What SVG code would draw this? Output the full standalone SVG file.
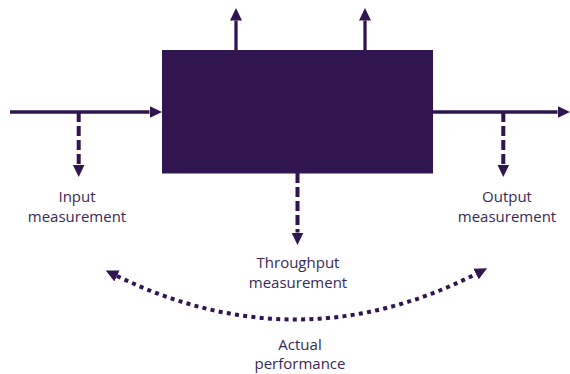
<svg xmlns="http://www.w3.org/2000/svg" width="570" height="374" viewBox="0 0 570 374">
<style>
  .solid{stroke:#31154f;stroke-width:3.3;fill:none}
  .dash{stroke:#31154f;stroke-width:4;fill:none;stroke-dasharray:10 4}
  .dot{stroke:#31154f;stroke-width:4;fill:none;stroke-dasharray:4 4.3}
  .lbl{font-family:"Open Sans","Noto Sans",sans-serif;font-size:15px;fill:#3a2856;text-anchor:middle}
</style>
<defs>
  <marker id="ah" viewBox="0 -7 13 14" refX="0" refY="0" markerWidth="13" markerHeight="14" markerUnits="userSpaceOnUse" orient="auto-start-reverse">
    <path d="M0,-6 L12.5,0 L0,6 Z" fill="#31154f"/>
  </marker>
</defs>
<rect width="570" height="374" fill="#ffffff"/>
<g id="process">
  <rect x="162" y="50" width="271" height="123.5" fill="#31154f"/>
</g>
<g id="connectors">
  <line class="solid" x1="10" y1="112" x2="149.5" y2="112" marker-end="url(#ah)"/>
  <line class="solid" x1="433" y1="112" x2="557.5" y2="112" marker-end="url(#ah)"/>
  <line class="solid" x1="236" y1="50" x2="236" y2="20.5" marker-end="url(#ah)"/>
  <line class="solid" x1="365" y1="50" x2="365" y2="20.5" marker-end="url(#ah)"/>
  <line class="dash" x1="78.7" y1="112" x2="78.7" y2="164.5" marker-end="url(#ah)"/>
  <line class="dash" x1="503.3" y1="112" x2="503.3" y2="164.5" marker-end="url(#ah)"/>
  <line class="dash" x1="297.5" y1="173" x2="297.5" y2="232.5" marker-end="url(#ah)"/>
  <path class="dot" d="M117,276 Q298,364 476,274" marker-start="url(#ah)" marker-end="url(#ah)"/>
</g>
<g id="input-label">
  <text class="lbl" x="77" y="202">Input</text>
  <text class="lbl" x="77" y="221.5">measurement</text>
</g>
<g id="output-label">
  <text class="lbl" x="507" y="202">Output</text>
  <text class="lbl" x="507" y="221.5">measurement</text>
</g>
<g id="throughput-label">
  <text class="lbl" x="298" y="268">Throughput</text>
  <text class="lbl" x="298" y="288">measurement</text>
</g>
<g id="performance-label">
  <text class="lbl" x="300" y="349.5">Actual</text>
  <text class="lbl" x="300" y="369">performance</text>
</g>
</svg>
